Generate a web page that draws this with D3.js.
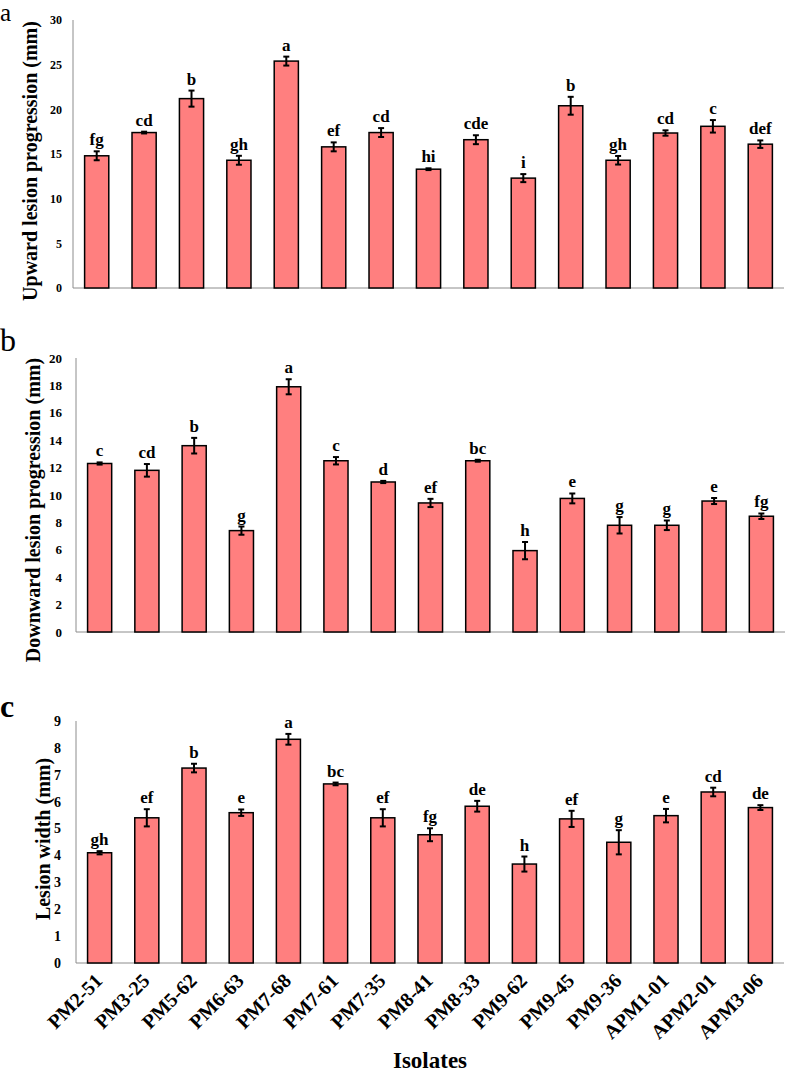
<!DOCTYPE html>
<html>
<head>
<meta charset="utf-8">
<script src="https://cdn.jsdelivr.net/npm/d3@7"></script>
<style>
  body { margin: 0; background: #fff; }
  svg text { font-family: "Liberation Serif", "Times New Roman", serif; fill: #000; }
</style>
</head>
<body>
<div id="chart"></div>
<script>
// isolates on the x axis (shared by the three panels)
const isolates = ["PM2-51", "PM3-25", "PM5-62", "PM6-63", "PM7-68", "PM7-61", "PM7-35",
  "PM8-41", "PM8-33", "PM9-62", "PM9-45", "PM9-36", "APM1-01", "APM2-01", "APM3-06"];

// a: upward lesion progression (mm)
const upward = [14.8, 17.4, 21.2, 14.3, 25.4, 15.8, 17.4, 13.3, 16.6, 12.3, 20.4, 14.3, 17.35, 18.1, 16.1];
const upwardErr = [0.5, 0.1, 0.9, 0.5, 0.5, 0.5, 0.5, 0.1, 0.5, 0.45, 1.0, 0.48, 0.3, 0.7, 0.42];
const upwardLetters = ["fg", "cd", "b", "gh", "a", "ef", "cd", "hi", "cde", "i", "b", "gh", "cd", "c", "def"];
const upwardTicks = [0, 5, 10, 15, 20, 25, 30];

// b: downward lesion progression (mm)
const downward = [12.3, 11.8, 13.6, 7.4, 17.9, 12.5, 10.95, 9.42, 12.5, 5.94, 9.75, 7.79, 7.79, 9.56, 8.45];
const downwardErr = [0.08, 0.46, 0.57, 0.3, 0.55, 0.27, 0.08, 0.3, 0.07, 0.63, 0.36, 0.6, 0.35, 0.22, 0.2];
const downwardLetters = ["c", "cd", "b", "g", "a", "c", "d", "ef", "bc", "h", "e", "g", "g", "e", "fg"];
const downwardTicks = [0, 2, 4, 6, 8, 10, 12, 14, 16, 18, 20];

// c: lesion width (mm)
const lesionWidth = [4.1, 5.4, 7.25, 5.59, 8.32, 6.66, 5.4, 4.77, 5.83, 3.68, 5.36, 4.49, 5.48, 6.36, 5.78];
const lesionWidthErr = [0.06, 0.32, 0.16, 0.12, 0.2, 0.05, 0.32, 0.24, 0.2, 0.28, 0.3, 0.45, 0.25, 0.16, 0.09];
const lesionWidthLetters = ["gh", "ef", "b", "e", "a", "bc", "ef", "fg", "de", "h", "ef", "g", "e", "cd", "de"];
const lesionWidthTicks = [0, 1, 2, 3, 4, 5, 6, 7, 8, 9];

const barFill = "#ff7f7f";
const axisGrey = "#8c8c8c";

const svg = d3.select("#chart").append("svg")
  .attr("width", 786)
  .attr("height", 1075);

function drawPanel(p) {
  const x = d3.scaleBand().domain(isolates).range([p.x0, p.x1]).padding(0);
  const y = d3.scaleLinear().domain([0, p.yMax]).range([p.bottom, p.top]);
  const bw = x.bandwidth() * 0.51;
  const rows = isolates.map((name, i) => ({name, v: p.values[i], e: p.errors[i], l: p.letters[i]}));
  const g = svg.append("g");

  // axis lines
  g.append("line")
    .attr("x1", p.x0).attr("x2", p.x0)
    .attr("y1", y(p.yMax)).attr("y2", y(0))
    .attr("stroke", axisGrey).attr("stroke-width", 1);
  g.append("line")
    .attr("x1", p.x0).attr("x2", p.x1)
    .attr("y1", y(0)).attr("y2", y(0))
    .attr("stroke", axisGrey).attr("stroke-width", 1);

  // y tick labels
  g.selectAll(".ytick")
    .data(p.ticks)
    .enter()
    .append("text")
    .attr("x", p.labelX)
    .attr("y", d => y(d))
    .attr("dy", "0.35em")
    .attr("text-anchor", "end")
    .attr("font-weight", "bold")
    .attr("font-size", p.tickSize)
    .text(d => d);

  // bars
  g.selectAll("rect")
    .data(rows)
    .enter()
    .append("rect")
    .attr("x", d => x(d.name) + (x.bandwidth() - bw) / 2)
    .attr("y", d => y(d.v))
    .attr("width", bw)
    .attr("height", d => y(0) - y(d.v))
    .attr("fill", barFill)
    .attr("stroke", "#000")
    .attr("stroke-width", 1.5);

  // error bars
  const cx = d => x(d.name) + x.bandwidth() / 2;
  const err = g.selectAll(".err").data(rows).enter().append("g");
  err.append("line")
    .attr("x1", cx).attr("x2", cx)
    .attr("y1", d => y(d.v - d.e)).attr("y2", d => y(d.v + d.e))
    .attr("stroke", "#000").attr("stroke-width", 2);
  err.append("line")
    .attr("x1", d => cx(d) - 3).attr("x2", d => cx(d) + 3)
    .attr("y1", d => y(d.v + d.e)).attr("y2", d => y(d.v + d.e))
    .attr("stroke", "#000").attr("stroke-width", 2);
  err.append("line")
    .attr("x1", d => cx(d) - 3).attr("x2", d => cx(d) + 3)
    .attr("y1", d => y(d.v - d.e)).attr("y2", d => y(d.v - d.e))
    .attr("stroke", "#000").attr("stroke-width", 2);

  // significance letters
  g.selectAll(".sig")
    .data(rows)
    .enter()
    .append("text")
    .attr("x", cx)
    .attr("y", d => y(d.v + d.e) - 6)
    .attr("text-anchor", "middle")
    .attr("font-weight", "bold")
    .attr("font-size", 17)
    .text(d => d.l);

  // y title
  g.append("text")
    .attr("transform", `translate(${p.titleX},${p.titleY}) rotate(-90)`)
    .attr("text-anchor", "middle")
    .attr("font-weight", "bold")
    .attr("font-size", 20)
    .text(p.title);

  // panel letter
  g.append("text")
    .attr("x", 0)
    .attr("y", p.letterY)
    .attr("font-size", p.letterSize)
    .attr("font-weight", p.letterBold ? "bold" : "normal")
    .text(p.letter);

  if (p.xLabels) {
    g.selectAll(".xtick")
      .data(isolates)
      .enter()
      .append("text")
      .attr("transform", d => `translate(${x(d) + x.bandwidth() / 2 + 4},${y(0) + 19}) rotate(-45)`)
      .attr("text-anchor", "end")
      .attr("font-weight", "bold")
      .attr("font-size", 20)
      .text(d => d);

    g.append("text")
      .attr("x", (p.x0 + p.x1) / 2)
      .attr("y", 1068)
      .attr("text-anchor", "middle")
      .attr("font-weight", "bold")
      .attr("font-size", 23)
      .text("Isolates");
  }
}

drawPanel({
  values: upward, errors: upwardErr, letters: upwardLetters, ticks: upwardTicks,
  yMax: 30, top: 20, bottom: 288, x0: 73, x1: 784, labelX: 62, tickSize: 12,
  title: "Upward lesion progression (mm)", titleX: 37, titleY: 161,
  letter: "a", letterY: 21, letterSize: 25, letterBold: false
});

drawPanel({
  values: downward, errors: downwardErr, letters: downwardLetters, ticks: downwardTicks,
  yMax: 20, top: 358, bottom: 632, x0: 76, x1: 785, labelX: 62, tickSize: 13,
  title: "Downward lesion progression (mm)", titleX: 40, titleY: 510,
  letter: "b", letterY: 351, letterSize: 32, letterBold: false
});

drawPanel({
  values: lesionWidth, errors: lesionWidthErr, letters: lesionWidthLetters, ticks: lesionWidthTicks,
  yMax: 9, top: 721, bottom: 963, x0: 76, x1: 784, labelX: 61, tickSize: 14,
  title: "Lesion width (mm)", titleX: 50, titleY: 839,
  letter: "c", letterY: 717, letterSize: 32, letterBold: true, xLabels: true
});
</script>
</body>
</html>
